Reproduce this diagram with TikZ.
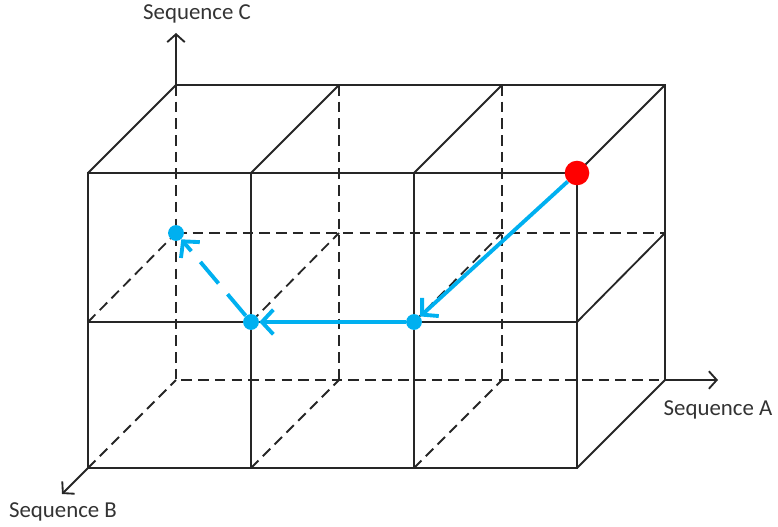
\documentclass[tikz,border=0pt]{standalone}
\usepackage{fontspec}
\setmainfont{Carlito}
\usetikzlibrary{arrows.meta}
\definecolor{pathblue}{RGB}{0, 176, 240}
\definecolor{startred}{RGB}{255, 0, 0}

\begin{document}
\begin{tikzpicture}[x=0.02cm, y=-0.02cm,
                edge/.style={line width=1.05pt, black!85},
                hidden/.style={edge, dash pattern=on 6pt off 3.5pt},
                axis/.style={edge, -{Straight Barb[length=4.5pt, width=10pt]}},
                move/.style={line width=2.2pt, pathblue,
                             -{Straight Barb[length=6.5pt, width=14pt]}},
                dot/.style={circle, fill=pathblue, inner sep=0pt, minimum size=9pt},
                axislabel/.style={font=\fontsize{13}{15}\selectfont, text=black!80}]
                \useasboundingbox (0,0) rectangle (778,527);
                % front face corners
                \coordinate (f00) at (88,173);  \coordinate (f10) at (251,173);
                \coordinate (f20) at (414,173); \coordinate (f30) at (577,173);
                \coordinate (f01) at (88,322);  \coordinate (f11) at (251,322);
                \coordinate (f21) at (414,322); \coordinate (f31) at (577,322);
                \coordinate (f02) at (88,468);  \coordinate (f12) at (251,468);
                \coordinate (f22) at (414,468); \coordinate (f32) at (577,468);
                % back face corners
                \coordinate (b00) at (176,85);  \coordinate (b10) at (339,85);
                \coordinate (b20) at (502,85);  \coordinate (b30) at (665,85);
                \coordinate (b01) at (176,233); \coordinate (b31) at (665,233);
                \coordinate (b02) at (176,380); \coordinate (b12) at (339,380);
                \coordinate (b22) at (502,380); \coordinate (b32) at (665,380);
                % axis ends
                \coordinate (endA) at (718,380);
                \coordinate (endB) at (62,494);
                \coordinate (endC) at (176,33);

                % hidden edges
                \draw[hidden] (b00) -- (b02) -- (b32);
                \draw[hidden] (b10) -- (b12);
                \draw[hidden] (b20) -- (b22);
                \draw[hidden] (b01) -- (b31);
                \draw[hidden] (f01) -- (b01);
                \draw[hidden] (f11) -- (339,233);
                \draw[hidden] (f21) -- (502,233);
                \draw[hidden] (f02) -- (b02);
                \draw[hidden] (f12) -- (b12);
                \draw[hidden] (f22) -- (b22);

                % visible edges
                \draw[edge] (f00) rectangle (f32);
                \draw[edge] (f01) -- (f31);
                \draw[edge] (f10) -- (f12);
                \draw[edge] (f20) -- (f22);
                \draw[edge] (b00) -- (b30) -- (b32);
                \draw[edge] (f00) -- (b00);
                \draw[edge] (f10) -- (b10);
                \draw[edge] (f20) -- (b20);
                \draw[edge] (f30) -- (b30);
                \draw[edge] (f31) -- (b31);
                \draw[edge] (f32) -- (b32);

                % axes
                \draw[axis] (b32) -- (endA);
                \draw[axis] (f02) -- (endB);
                \draw[axis] (b00) -- (endC);
                \node[axislabel] (labA) at (718,410) {Sequence A};
                \node[axislabel] (labB) at (63,512) {Sequence B};
                \node[axislabel] (labC) at (197,14) {Sequence C};

                % search path
                \node[circle, fill=startred, inner sep=0pt, minimum size=14pt]
                      (start) at (f30) {};
                \node[dot] (p1) at (f21) {};
                \node[dot] (p2) at (f11) {};
                \node[dot] (p3) at (b01) {};
                \draw[move] (start) -- (p1);
                \draw[move] (p1) -- (p2);
                \draw[move, dash pattern=on 16pt off 8pt] (p2) -- (p3);
            \end{tikzpicture}
\end{document}
